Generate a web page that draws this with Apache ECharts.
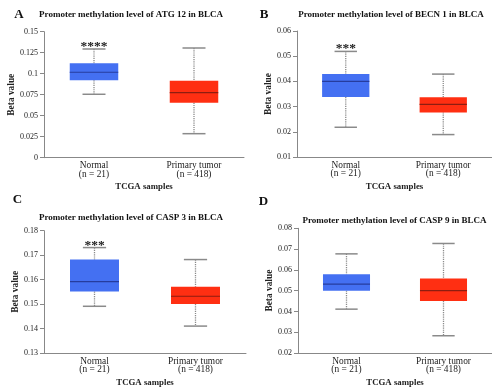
<!DOCTYPE html>
<html>
<head>
<meta charset="utf-8">
<script src="https://cdn.jsdelivr.net/npm/echarts@6/dist/echarts.min.js"></script>
<style>html,body{margin:0;padding:0;background:#fff;}#c{width:492px;height:388px;}</style>
</head>
<body>
<div id="c"></div>
<script>
// ---- data ----
const categories = ['Normal\n(n = 21)', 'Primary tumor\n(n = 418)'];
// each row: [min, Q1, median, Q3, max]
const atg12Normal = [0.0755, 0.0921, 0.1017, 0.1124, 0.1294];
const atg12Tumor  = [0.0286, 0.0655, 0.0774, 0.0917, 0.1306];
const becn1Normal = [0.0218, 0.0338, 0.0400, 0.0429, 0.0519];
const becn1Tumor  = [0.0189, 0.0277, 0.0309, 0.0337, 0.0429];
const casp3Normal = [0.1491, 0.1551, 0.1592, 0.1682, 0.1731];
const casp3Tumor  = [0.1410, 0.1500, 0.1532, 0.1571, 0.1682];
const casp9Normal = [0.0411, 0.0500, 0.0531, 0.0579, 0.0677];
const casp9Tumor  = [0.0283, 0.0450, 0.0500, 0.0559, 0.0727];
const sigATG12 = ['****', ''];
const sigBECN1 = ['***', ''];
const sigCASP3 = ['***', ''];
const sigCASP9 = ['', ''];
const titles = [
  'Promoter methylation level of ATG 12 in BLCA',
  'Promoter methylation level of BECN 1 in BLCA',
  'Promoter methylation level of CASP 3 in BLCA',
  'Promoter methylation level of CASP 9 in BLCA'
];
const letters = ['A', 'B', 'C', 'D'];
// y-axis ranges [min, max, interval]
const yRanges = [[0, 0.15, 0.025], [0.01, 0.06, 0.01], [0.13, 0.18, 0.01], [0.02, 0.08, 0.01]];
const xName = 'TCGA samples';
const yName = 'Beta value';

// ---- styles ----
const boxColors = ['#4470f2', '#ff2f12'];
const medColors = ['#263c9e', '#8e1d10'];
const SERIF = '"Liberation Serif", "DejaVu Serif", serif';

const panels = [
  {normal: atg12Normal, tumor: atg12Tumor, sig: sigATG12},
  {normal: becn1Normal, tumor: becn1Tumor, sig: sigBECN1},
  {normal: casp3Normal, tumor: casp3Tumor, sig: sigCASP3},
  {normal: casp9Normal, tumor: casp9Tumor, sig: sigCASP9}
];

const grids = [
  {left: 44, top: 31.7, width: 200, height: 126},
  {left: 297, top: 31, width: 202, height: 126},
  {left: 44, top: 230.7, width: 202, height: 125.3},
  {left: 298, top: 228.3, width: 204, height: 128.7}
];
const titlePos = [[131, 15], [391, 15], [131, 218], [394.5, 220.5]];
const letterPos = [[19, 14.5], [264, 15], [17.5, 200], [263.5, 201.5]];

function renderBox(sig) {
  return function (params, api) {
    const x = api.value(0);
    const pMin = api.coord([x, api.value(1)]);
    const pQ1 = api.coord([x, api.value(2)]);
    const pMed = api.coord([x, api.value(3)]);
    const pQ3 = api.coord([x, api.value(4)]);
    const pMax = api.coord([x, api.value(5)]);
    const band = api.size([1, 0])[0];
    const bw = band * 0.485;
    const cw = band * 0.23;
    const cx = pMed[0];
    const idx = params.dataIndex;
    const dash = {stroke: '#8a8a8a', lineWidth: 1.3, lineDash: [1.2, 1]};
    const cap = {stroke: '#8a8a8a', lineWidth: 1.5};
    const children = [
      {type: 'line', shape: {x1: cx, y1: pMax[1], x2: cx, y2: pQ3[1]}, style: dash},
      {type: 'line', shape: {x1: cx, y1: pQ1[1], x2: cx, y2: pMin[1]}, style: dash},
      {type: 'line', shape: {x1: cx - cw / 2, y1: pMax[1], x2: cx + cw / 2, y2: pMax[1]}, style: cap},
      {type: 'line', shape: {x1: cx - cw / 2, y1: pMin[1], x2: cx + cw / 2, y2: pMin[1]}, style: cap},
      {type: 'rect', shape: {x: cx - bw / 2, y: pQ3[1], width: bw, height: pQ1[1] - pQ3[1]},
        style: {fill: boxColors[idx], stroke: null}},
      {type: 'line', shape: {x1: cx - bw / 2, y1: pMed[1], x2: cx + bw / 2, y2: pMed[1]},
        style: {stroke: medColors[idx], lineWidth: 1.2}}
    ];
    if (sig[idx]) {
      children.push({type: 'text', style: {text: sig[idx], x: cx, y: pMax[1] - 2.5,
        align: 'center', verticalAlign: 'middle', textAlign: 'center', textVerticalAlign: 'middle',
        font: 'bold 13.5px ' + SERIF, fill: '#222'}});
    }
    return {type: 'group', children: children};
  };
}

const option = {
  animation: false,
  backgroundColor: '#fff',
  grid: grids.map(g => Object.assign({containLabel: false}, g)),
  xAxis: grids.map((g, i) => ({
    type: 'category', gridIndex: i, data: categories, boundaryGap: true,
    axisLine: {lineStyle: {color: '#888', width: 1}},
    axisTick: {show: false},
    axisLabel: {fontFamily: SERIF, fontSize: 9.4, lineHeight: 8.6, color: '#222', margin: 4, interval: 0},
    name: xName, nameLocation: 'middle', nameGap: 25,
    nameTextStyle: {fontFamily: SERIF, fontWeight: 'bold', fontSize: 8.8, color: '#222'},
    splitLine: {show: false}
  })),
  yAxis: grids.map((g, i) => ({
    type: 'value', gridIndex: i, min: yRanges[i][0], max: yRanges[i][1], interval: yRanges[i][2],
    axisLine: {show: true, lineStyle: {color: '#888', width: 1}},
    axisTick: {show: true, length: 4, lineStyle: {color: '#888'}},
    axisLabel: {fontFamily: SERIF, fontSize: 8, color: '#222', margin: 6},
    name: yName, nameLocation: 'middle', nameGap: 23,
    nameTextStyle: {fontFamily: SERIF, fontWeight: 'bold', fontSize: 9.4, color: '#222'},
    splitLine: {show: false}
  })),
  graphic: [].concat(
    titles.map((t, i) => ({type: 'text', x: titlePos[i][0], y: titlePos[i][1],
      style: {text: t, font: 'bold 9px ' + SERIF, fill: '#111', align: 'center', verticalAlign: 'middle',
        textAlign: 'center', textVerticalAlign: 'middle'}})),
    letters.map((t, i) => ({type: 'text', x: letterPos[i][0], y: letterPos[i][1],
      style: {text: t, font: 'bold 13px ' + SERIF, fill: '#111', align: 'center', verticalAlign: 'middle',
        textAlign: 'center', textVerticalAlign: 'middle'}}))
  ),
  series: panels.map((p, i) => ({
    type: 'custom', xAxisIndex: i, yAxisIndex: i,
    renderItem: renderBox(p.sig),
    encode: {x: 0, y: [1, 2, 3, 4, 5]},
    clip: false,
    data: [[0].concat(p.normal), [1].concat(p.tumor)]
  }))
};

const chart = echarts.init(document.getElementById('c'), null, {renderer: 'canvas'});
chart.setOption(option);
</script>
</body>
</html>
